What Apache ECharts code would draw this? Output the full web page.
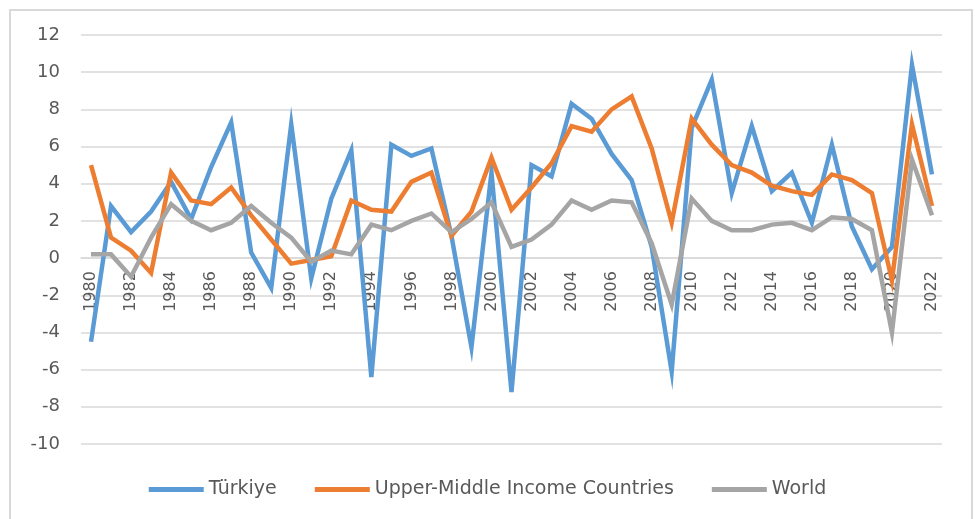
<!DOCTYPE html>
<html>
<head>
<meta charset="utf-8">
<script src="https://cdn.jsdelivr.net/npm/echarts@6/dist/echarts.min.js"></script>
<style>
  html, body { margin: 0; padding: 0; background: #fff; }
  #chart { width: 975px; height: 519px; }
</style>
</head>
<body>
<div id="chart"></div>
<script>
// years on the x axis
const years = []
for (let y = 1980; y <= 2022; y++) years.push(String(y))

// GDP growth (%)
const turkiye = [
  -4.5, 2.8, 1.4, 2.5, 4.1, 2.1, 4.9, 7.3, 0.3, -1.6,
  7.2, -1.1, 3.2, 5.8, -6.4, 6.1, 5.5, 5.9, 1.2, -4.8,
  4.6, -7.2, 5.0, 4.4, 8.3, 7.5, 5.6, 4.2, 0.6, -6.1,
  7.0, 9.6, 3.5, 7.1, 3.6, 4.6, 1.9, 6.1, 1.7, -0.6,
  0.6, 10.4, 4.5
]
const upperMiddle = [
  5.0, 1.1, 0.4, -0.8, 4.6, 3.1, 2.9, 3.8, 2.3, 1.0,
  -0.3, -0.1, 0.1, 3.1, 2.6, 2.5, 4.1, 4.6, 1.2, 2.5,
  5.4, 2.6, 3.8, 5.1, 7.1, 6.8, 8.0, 8.7, 5.9, 1.9,
  7.5, 6.1, 5.0, 4.6, 3.9, 3.6, 3.4, 4.5, 4.2, 3.5,
  -1.2, 7.2, 2.8
]
const world = [
  0.2, 0.2, -1.0, 1.1, 2.9, 2.0, 1.5, 1.9, 2.8, 1.9,
  1.1, -0.2, 0.4, 0.2, 1.8, 1.5, 2.0, 2.4, 1.4, 2.1,
  3.0, 0.6, 1.0, 1.8, 3.1, 2.6, 3.1, 3.0, 0.8, -2.5,
  3.2, 2.0, 1.5, 1.5, 1.8, 1.9, 1.5, 2.2, 2.1, 1.5,
  -4.0, 5.3, 2.3
]

const seriesNames = ['Türkiye', 'Upper-Middle Income Countries', 'World']
const colors = ['#5B9BD5', '#ED7D31', '#A5A5A5']

const textColor = '#595959'
const gridColor = '#D9D9D9'
const fontFamily = 'DejaVu Sans, Liberation Sans, sans-serif'

const chartH = 519
const gridBottom = 75

const chart = echarts.init(document.getElementById('chart'))

const makeLine = (name, data, color) => ({
  name: name,
  type: 'line',
  data: data,
  symbol: 'none',
  lineStyle: { width: 4.5, color: color, join: 'miter' },
  itemStyle: { color: color },
  z: 3,
  animation: false
})

chart.setOption({
  animation: false,
  color: colors,
  textStyle: { fontFamily: fontFamily },
  // outer frame of the chart area
  graphic: [{
    type: 'rect',
    shape: { x: 10, y: 10, width: 962, height: 530 },
    style: { fill: 'none', stroke: gridColor, lineWidth: 2 },
    silent: true
  }],
  grid: { left: 81, right: 33, top: 35, bottom: gridBottom },
  legend: {
    data: seriesNames,
    bottom: 15,
    left: 'center',
    icon: 'rect',
    itemWidth: 55,
    itemHeight: 5,
    itemGap: 38,
    textStyle: { color: textColor, fontSize: 19, fontFamily: fontFamily }
  },
  xAxis: {
    type: 'category',
    data: years,
    boundaryGap: true,
    z: 1,
    axisLine: { show: true, onZero: false, lineStyle: { color: gridColor, width: 1.5 } },
    axisTick: { show: false },
    axisLabel: {
      rotate: 90,
      interval: 1,
      margin: 13,
      color: textColor,
      fontSize: 16,
      fontFamily: fontFamily
    },
    splitLine: { show: false }
  },
  yAxis: {
    type: 'value',
    min: -10,
    max: 12,
    interval: 2,
    axisLine: { show: false },
    axisTick: { show: false },
    axisLabel: { color: textColor, fontSize: 18, margin: 21, fontFamily: fontFamily },
    splitLine: { lineStyle: { color: gridColor, width: 1.5 } }
  },
  series: [
    makeLine(seriesNames[0], turkiye, colors[0]),
    makeLine(seriesNames[1], upperMiddle, colors[1]),
    makeLine(seriesNames[2], world, colors[2])
  ]
})

// move the category axis up to the zero line
const zeroY = chart.convertToPixel({ yAxisIndex: 0 }, 0)
chart.setOption({ xAxis: { offset: zeroY - (chartH - gridBottom) } })
</script>
</body>
</html>
